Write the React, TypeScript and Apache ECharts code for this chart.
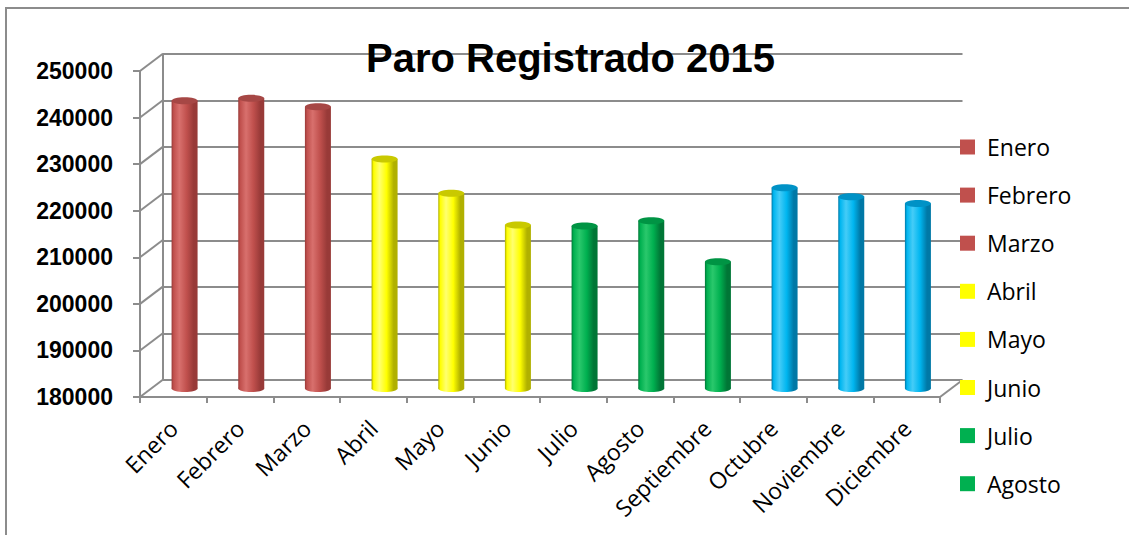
import React, { useEffect, useRef } from "react";
import * as echarts from "echarts";

const months = ["Enero", "Febrero", "Marzo", "Abril", "Mayo", "Junio", "Julio", "Agosto", "Septiembre", "Octubre", "Noviembre", "Diciembre"];
const paro = [241800, 242300, 240500, 229300, 221900, 215100, 214900, 216000, 207200, 223100, 221200, 219700];
const quarterOfMonth = [0, 0, 0, 1, 1, 1, 2, 2, 2, 3, 3, 3];
const legendMonths = months.slice(0, 8);
const yMin = 180000;
const yMax = 250000;
const yStep = 10000;
const yTicks = [180000, 190000, 200000, 210000, 220000, 230000, 240000, 250000];

// palette per quarter: base, light, dark, top
const palettes = [
  { base: "#c0504d", light: "#d8706d", dark: "#983a38", top: "#a64745" },
  { base: "#ffff00", light: "#ffff70", dark: "#b0b000", top: "#c9c900" },
  { base: "#00b050", light: "#2ac86c", dark: "#007636", top: "#009444" },
  { base: "#00b6f0", light: "#45ccf7", dark: "#0078a6", top: "#0092c6" },
];

const W = 1129;
const H = 535;
const FRONT = { left: 140, top: 71, width: 800, height: 326 };
const DX = 22.5;
const DY = 17;
const grey = "#8c8c8c";

function gridAt(k: number) {
  return {
    left: FRONT.left + DX * k,
    top: FRONT.top - DY * k,
    width: FRONT.width,
    height: FRONT.height,
  };
}

export default function App() {
  const ref = useRef<HTMLDivElement>(null);
  useEffect(() => {
    document.body.style.margin = "0";
    if (!ref.current) return;
    const chart = echarts.init(ref.current, null, { renderer: "svg" });

    const hiddenX = (gi: number) => ({ type: "category", data: months, gridIndex: gi, show: false });
    const hiddenY = (gi: number) => ({ type: "value", min: yMin, max: yMax, interval: yStep, gridIndex: gi, show: false });

    const barSeries = months.map((m, i) => {
      const p = palettes[quarterOfMonth[i]];
      return {
        type: "custom",
        name: m,
        xAxisIndex: 1,
        yAxisIndex: 1,
        z: 5,
        clip: false,
        itemStyle: { color: p.base },
        encode: { x: 0, y: 1 },
        data: [[i, paro[i]]],
        renderItem: (params: any, api: any) => {
          const top = api.coord([api.value(0), api.value(1)]);
          const base = api.coord([api.value(0), yMin]);
          const bw = api.size([1, 0])[0] * 0.39;
          const cx = top[0];
          const ry = 3.5;
          const grad = new echarts.graphic.LinearGradient(0, 0, 1, 0, [
            { offset: 0, color: p.dark },
            { offset: 0.08, color: p.base },
            { offset: 0.3, color: p.light },
            { offset: 0.58, color: p.base },
            { offset: 0.85, color: p.dark },
            { offset: 1, color: p.dark },
          ]);
          return {
            type: "group",
            children: [
              { type: "ellipse", shape: { cx, cy: base[1], rx: bw / 2, ry }, style: { fill: grad } },
              { type: "rect", shape: { x: cx - bw / 2, y: top[1], width: bw, height: base[1] - top[1] }, style: { fill: grad } },
              { type: "ellipse", shape: { cx, cy: top[1], rx: bw / 2, ry }, style: { fill: p.top } },
            ],
          };
        },
      };
    });

    const frameSeries = {
      type: "custom",
      name: "frame",
      xAxisIndex: 2,
      yAxisIndex: 2,
      z: 1,
      silent: true,
      clip: false,
      encode: { x: 0, y: 1 },
      data: yTicks.map((v) => [0, v]),
      renderItem: (params: any, api: any) => {
        const cs = params.coordSys;
        const y = api.coord([0, api.value(1)])[1];
        const children: any[] = [
          { type: "line", shape: { x1: cs.x, y1: y, x2: cs.x + DX, y2: y - DY }, style: { stroke: grey, lineWidth: 2 } },
        ];
        if (api.value(1) === yMin) {
          children.push({ type: "line", shape: { x1: cs.x + cs.width, y1: y, x2: cs.x + cs.width + DX, y2: y - DY }, style: { stroke: grey, lineWidth: 2 } });
        }
        return { type: "group", children };
      },
    };

    const option: any = {
      animation: false,
      backgroundColor: "#ffffff",
      title: {
        text: "Paro Registrado 2015",
        left: 366,
        top: 38,
        padding: 0,
        textStyle: { fontFamily: "Liberation Sans, Arial, sans-serif", fontWeight: "bold", fontSize: 40, color: "#000" },
      },
      legend: {
        orient: "vertical",
        left: 960,
        top: 135.5,
        padding: 0,
        itemWidth: 15,
        itemHeight: 15,
        itemGap: 25.1,
        icon: "rect",
        selectedMode: false,
        data: legendMonths.map((m, i) => ({ name: m, itemStyle: { color: palettes[quarterOfMonth[i]].base, borderWidth: 0 } })),
        textStyle: { fontFamily: "Open Sans", fontSize: 23, color: "#000", lineHeight: 23, padding: [0, 0, 0, 7] },
      },
      grid: [
        { ...gridAt(1), containLabel: false },
        { ...gridAt(0.5), containLabel: false },
        { ...gridAt(0), containLabel: false },
      ],
      xAxis: [
        hiddenX(0),
        hiddenX(1),
        {
          type: "category",
          data: months,
          gridIndex: 2,
          axisLine: { show: true, lineStyle: { color: grey, width: 2 } },
          axisTick: { show: true, length: 6, lineStyle: { color: grey, width: 2 } },
          axisLabel: { show: true, interval: 0, rotate: 45, margin: 27, fontFamily: "Open Sans", fontSize: 23, color: "#000" },
        },
      ],
      yAxis: [
        {
          type: "value",
          min: yMin,
          max: yMax,
          interval: yStep,
          gridIndex: 0,
          axisLine: { show: true, lineStyle: { color: grey, width: 2 } },
          axisTick: { show: false },
          axisLabel: { show: false },
          splitLine: { show: true, lineStyle: { color: grey, width: 2 } },
        },
        hiddenY(1),
        {
          type: "value",
          min: yMin,
          max: yMax,
          interval: yStep,
          gridIndex: 2,
          axisLine: { show: true, lineStyle: { color: grey, width: 2 } },
          axisTick: { show: true, length: 7, lineStyle: { color: grey, width: 2 } },
          splitLine: { show: false },
          axisLabel: {
            show: true,
            margin: 27,
            formatter: (v: number) => String(v),
            fontFamily: "Liberation Sans, Arial, sans-serif",
            fontWeight: "bold",
            fontSize: 23,
            color: "#000",
          },
        },
      ],
      graphic: [
        {
          type: "rect",
          silent: true,
          z: 0,
          shape: { x: 6, y: 8, width: W + 50, height: H + 50 },
          style: { fill: "none", stroke: grey, lineWidth: 2 },
        },
      ],
      series: [frameSeries, ...barSeries],
    };

    chart.setOption(option);
    return () => chart.dispose();
  }, []);
  return <div ref={ref} style={{ width: W, height: H }} />;
}
